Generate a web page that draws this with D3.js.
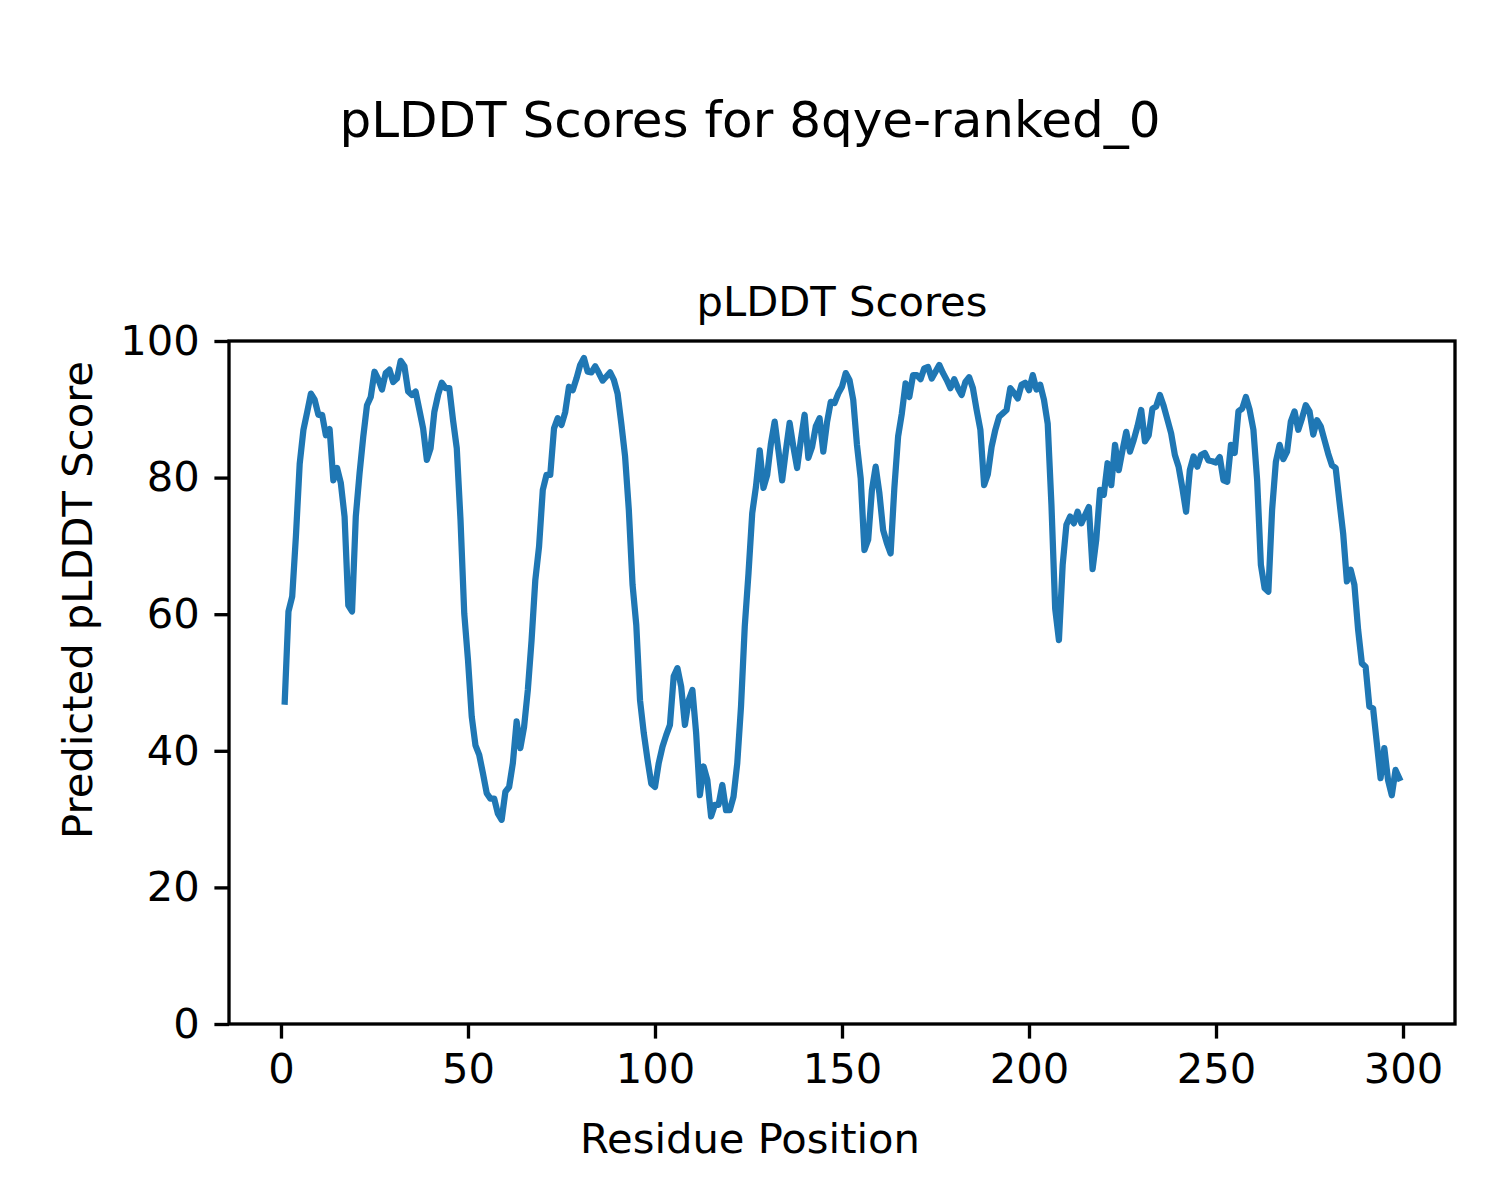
<!DOCTYPE html>
<html>
<head>
<meta charset="utf-8">
<script src="https://cdn.jsdelivr.net/npm/d3@7"></script>
<style>
  html, body { margin: 0; padding: 0; background: #ffffff; }
  svg { display: block; font-family: "DejaVu Sans", sans-serif; }
</style>
</head>
<body>
<svg id="chart" width="1500" height="1200"></svg>
<script>
// ---- data ----
const figureTitle = "pLDDT Scores for 8qye-ranked_0";
const axesTitle = "pLDDT Scores";
const xLabel = "Residue Position";
const yLabel = "Predicted pLDDT Score";
const xTicks = [0, 50, 100, 150, 200, 250, 300];
const yTicks = [0, 20, 40, 60, 80, 100];
const firstResidue = 1;
const scores = [
  47.2, 60.4, 62.6, 71.5, 82.0, 87.0, 89.6, 92.3, 91.4, 89.2,
  89.2, 86.2, 87.1, 79.6, 81.4, 79.2, 74.3, 61.3, 60.4, 74.3,
  80.6, 86.0, 90.6, 91.8, 95.5, 94.4, 92.9, 95.3, 95.8, 94.0,
  94.5, 97.1, 96.3, 92.6, 92.1, 92.6, 89.9, 87.2, 82.6, 84.3,
  89.6, 92.1, 93.9, 93.1, 93.1, 88.4, 84.3, 73.8, 60.1, 53.3,
  45.0, 40.8, 39.4, 36.7, 33.8, 33.0, 33.0, 30.8, 29.9, 34.0,
  34.7, 38.2, 44.3, 40.4, 43.5, 48.9, 56.2, 65.0, 69.9, 78.2,
  80.4, 80.4, 87.2, 88.7, 87.7, 89.6, 93.3, 92.8, 94.5, 96.5,
  97.5, 95.5, 95.4, 96.3, 95.3, 94.2, 94.8, 95.4, 94.3, 92.3,
  87.9, 83.1, 75.3, 64.3, 58.4, 47.4, 42.6, 38.7, 35.2, 34.7,
  38.2, 40.6, 42.3, 43.8, 50.9, 52.1, 49.4, 43.8, 47.4, 48.9,
  42.6, 33.5, 37.7, 35.7, 30.4, 32.1, 32.1, 35.0, 31.3, 31.3,
  33.3, 38.2, 46.5, 58.2, 66.0, 74.8, 78.7, 84.0, 78.5, 80.4,
  85.0, 88.2, 84.0, 79.6, 84.0, 88.0, 84.5, 81.4, 85.5, 89.2,
  82.9, 84.5, 87.5, 88.7, 83.8, 88.1, 91.1, 90.9, 92.3, 93.3,
  95.3, 94.3, 91.4, 84.8, 79.9, 69.4, 70.9, 78.2, 81.6, 77.7,
  72.3, 70.4, 68.9, 78.5, 86.0, 89.4, 93.8, 91.8, 95.0, 95.0,
  94.4, 96.0, 96.2, 94.5, 95.5, 96.5, 95.3, 94.3, 93.1, 94.4,
  93.1, 92.1, 94.0, 94.7, 93.1, 89.9, 87.0, 78.9, 80.5, 84.5,
  87.0, 88.9, 89.4, 89.9, 93.1, 92.4, 91.6, 93.6, 93.9, 92.8,
  95.0, 92.9, 93.6, 91.4, 87.9, 76.0, 60.8, 56.2, 67.2, 73.1,
  74.3, 73.3, 75.0, 73.3, 74.5, 75.7, 66.6, 71.0, 78.2, 77.5,
  82.1, 78.9, 84.8, 81.1, 84.0, 86.7, 83.8, 85.5, 87.5, 89.9,
  85.3, 86.2, 90.1, 90.4, 92.1, 90.5, 88.5, 86.5, 83.3, 81.6,
  78.5, 75.0, 81.1, 83.1, 81.6, 83.3, 83.6, 82.5, 82.4, 82.2,
  83.0, 79.6, 79.4, 84.8, 83.6, 89.7, 90.1, 91.8, 89.9, 87.0,
  79.6, 67.2, 63.8, 63.3, 75.3, 82.3, 84.8, 82.7, 83.8, 88.2,
  89.7, 87.0, 88.7, 90.6, 89.7, 86.3, 88.4, 87.5, 85.5, 83.5,
  81.8, 81.4, 76.5, 71.8, 64.8, 66.5, 64.3, 57.7, 52.8, 52.3,
  46.5, 46.2, 41.1, 36.0, 40.4, 35.7, 33.5, 37.2, 36.0
];

// ---- layout ----
const W = 1500, H = 1200;
const plot = { left: 229, right: 1455, top: 341, bottom: 1024 };
const fontPx = 41.67;      // 10pt at 300 dpi
const bigFontPx = 50;      // 12pt at 300 dpi
const tickLen = 14.6, tickPad = 14.6, spineW = 3.33;
const lineColor = "#1f77b4";

const data = scores.map((v, i) => ({ x: firstResidue + i, y: v }));
const xMin = firstResidue, xMax = firstResidue + scores.length - 1;
const xMargin = (xMax - xMin) * 0.05;

const x = d3.scaleLinear().domain([xMin - xMargin, xMax + xMargin]).range([plot.left, plot.right]);
const y = d3.scaleLinear().domain([0, 100]).range([plot.bottom, plot.top]);

const svg = d3.select("#chart");
svg.append("rect").attr("width", W).attr("height", H).attr("fill", "#fff");

// line
const line = d3.line().x(d => x(d.x)).y(d => y(d.y));
svg.append("path")
  .datum(data)
  .attr("d", line)
  .attr("fill", "none")
  .attr("stroke", lineColor)
  .attr("stroke-width", 6.25)
  .attr("stroke-linejoin", "round")
  .attr("stroke-linecap", "square");

// axes
const xAxis = d3.axisBottom(x).tickValues(xTicks).tickSize(tickLen).tickPadding(tickPad).tickFormat(d3.format("d"));
const yAxis = d3.axisLeft(y).tickValues(yTicks).tickSize(tickLen).tickPadding(tickPad).tickFormat(d3.format("d"));

const gx = svg.append("g").attr("transform", `translate(0,${plot.bottom})`).call(xAxis);
const gy = svg.append("g").attr("transform", `translate(${plot.left},0)`).call(yAxis);
[gx, gy].forEach(g => {
  g.select(".domain").remove();
  g.selectAll(".tick line").attr("stroke", "#000").attr("stroke-width", spineW);
  g.selectAll(".tick text").attr("fill", "#000")
    .style("font-family", "'DejaVu Sans', sans-serif").style("font-size", fontPx + "px");
});

// spines
svg.append("rect")
  .attr("x", plot.left).attr("y", plot.top)
  .attr("width", plot.right - plot.left).attr("height", plot.bottom - plot.top)
  .attr("fill", "none").attr("stroke", "#000").attr("stroke-width", spineW);

// texts
svg.append("text")
  .attr("x", W / 2).attr("y", 137)
  .attr("text-anchor", "middle")
  .style("font-size", bigFontPx + "px")
  .text(figureTitle);

svg.append("text")
  .attr("x", (plot.left + plot.right) / 2).attr("y", 316)
  .attr("text-anchor", "middle")
  .style("font-size", fontPx + "px")
  .text(axesTitle);

svg.append("text")
  .attr("x", W / 2).attr("y", 1153)
  .attr("text-anchor", "middle")
  .style("font-size", fontPx + "px")
  .text(xLabel);

svg.append("text")
  .attr("transform", `translate(92,${H / 2}) rotate(-90)`)
  .attr("text-anchor", "middle")
  .style("font-size", fontPx + "px")
  .text(yLabel);
</script>
</body>
</html>
